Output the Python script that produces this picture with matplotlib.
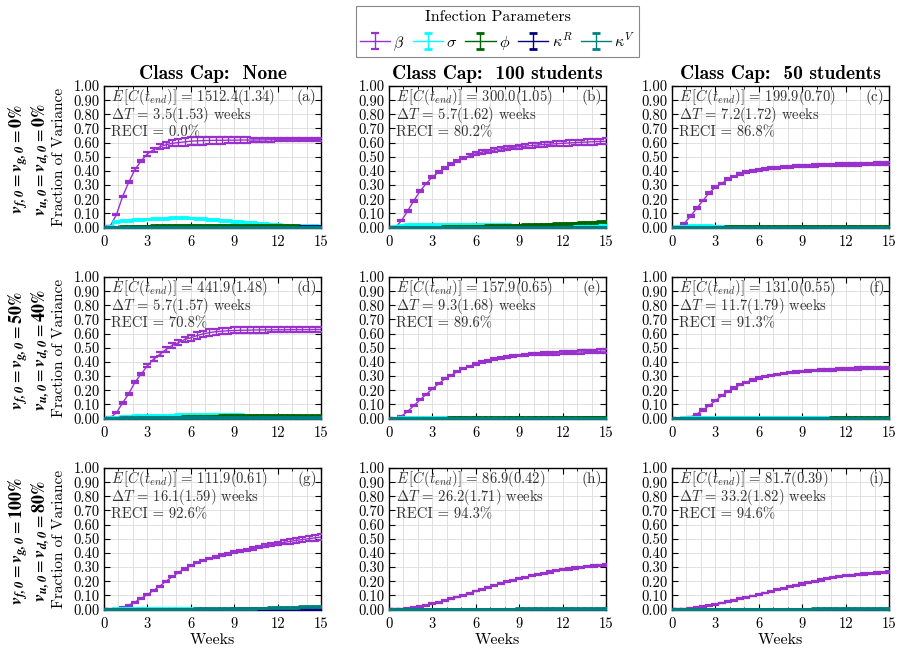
import numpy as np
import matplotlib.pyplot as plt
from matplotlib.lines import Line2D
from matplotlib.ticker import MultipleLocator, FormatStrFormatter

plt.rcParams['font.family'] = 'cmr10'
plt.rcParams['mathtext.fontset'] = 'cm'
plt.rcParams['axes.unicode_minus'] = False

# time axis (weeks), one point every 3 days
WEEKS = [0.0, 0.43, 0.86, 1.29, 1.71, 2.14, 2.57, 3.0, 3.43, 3.86, 4.29, 4.71,
         5.14, 5.57, 6.0, 6.43, 6.86, 7.29, 7.71, 8.14, 8.57, 9.0, 9.43, 9.86,
         10.29, 10.71, 11.14, 11.57, 12.0, 12.43, 12.86, 13.29, 13.71, 14.14, 14.57, 15.0]

CAPS = ['None', '100 students', '50 students']
ROW_VFG = ['0', '50', '100']
ROW_VUD = ['0', '40', '80']
LETTERS = ['a', 'b', 'c', 'd', 'e', 'f', 'g', 'h', 'i']
E_CEND = ['1512.4(1.34)', '300.0(1.05)', '199.9(0.70)',
          '441.9(1.48)', '157.9(0.65)', '131.0(0.55)',
          '111.9(0.61)', '86.9(0.42)', '81.7(0.39)']
DELTA_T = ['3.5(1.53)', '5.7(1.62)', '7.2(1.72)',
           '5.7(1.57)', '9.3(1.68)', '11.7(1.79)',
           '16.1(1.59)', '26.2(1.71)', '33.2(1.82)']
RECI = ['0.0', '80.2', '86.8', '70.8', '89.6', '91.3', '92.6', '94.3', '94.6']

SMALL_ERR = 0.003

# ---- panel (a)
beta_a = [0, .01, .09, .22, .32, .41, .47, .52, .55, .57, .585, .595,
          .600, .605, .610, .612, .614, .615, .616, .616, .617, .617, .618, .618,
          .618, .619, .619, .620, .620, .620, .620, .620, .621, .621, .621, .621]
beta_err_a = [0, .003, .004, .005, .006, .008, .010, .012, .015, .018, .020, .022,
              .024, .026, .027, .028, .028, .027, .026, .024, .022, .020, .019, .018,
              .016, .015, .014, .013, .012, .012, .011, .011, .010, .010, .010, .010]
sigma_a = [0, .005, .040, .050, .052, .056, .058, .060, .062, .064, .066, .068,
           .068, .068, .067, .065, .062, .058, .055, .052, .048, .044, .040, .036,
           .032, .029, .026, .022, .019, .017, .015, .014, .013, .012, .011, .010]
phi_a = [0, 0, .002, .004, .006, .008, .009, .010, .012, .013, .014, .015,
         .015, .016, .016, .016, .016, .016, .016, .016, .016, .016, .015, .015,
         .015, .015, .015, .014, .014, .013, .012, .011, .010, .009, .008, .008]
kr_a = [0, 0, 0, 0, 0, 0, 0, 0, 0, 0, 0, 0,
        0, 0, 0, 0, 0, 0, .001, .001, .001, .001, .001, .001,
        .001, .002, .002, .002, .003, .003, .003, .003, .004, .004, .004, .004]
kv_a = [0, .001, .002, .002, .002, .002, .002, .002, .002, .002, .002, .002,
        .002, .002, .002, .002, .002, .002, .002, .002, .002, .002, .002, .002,
        .002, .002, .002, .002, .002, .002, .002, .002, .002, .002, .002, .002]

# ---- panel (b)
beta_b = [0, 0, .047, .117, .188, .256, .310, .357, .390, .420, .446, .470,
          .490, .507, .520, .533, .540, .548, .555, .560, .566, .571, .575, .579,
          .583, .586, .589, .592, .595, .597, .600, .602, .604, .606, .608, .610]
beta_err_b = [0, .002, .004, .005, .005, .006, .006, .007, .007, .008, .008, .009,
              .009, .010, .010, .011, .011, .012, .012, .013, .013, .014, .014, .015,
              .015, .016, .016, .017, .017, .018, .018, .019, .019, .020, .020, .020]
sigma_b = [0, .005, .015, .020, .022, .022, .022, .022, .022, .022, .022, .021,
           .021, .020, .020, .020, .019, .019, .018, .018, .017, .017, .016, .016,
           .015, .015, .014, .014, .013, .013, .012, .012, .012, .011, .011, .011]
phi_b = [0, 0, 0, 0, .001, .001, .002, .002, .003, .004, .005, .006,
         .007, .008, .009, .010, .011, .012, .013, .014, .015, .017, .018, .019,
         .021, .022, .024, .025, .027, .029, .031, .033, .035, .037, .039, .042]
kr_b = [0, 0, 0, 0, 0, 0, 0, 0, 0, 0, 0, 0,
        0, 0, 0, 0, 0, 0, 0, 0, 0, 0, 0, 0,
        .001, .001, .001, .001, .001, .001, .001, .001, .001, .001, .001, .001]
kv_b = [0, .001, .002, .002, .002, .002, .002, .002, .002, .002, .002, .002,
        .002, .002, .002, .002, .002, .002, .002, .002, .002, .002, .002, .002,
        .002, .002, .002, .002, .002, .002, .002, .002, .002, .002, .002, .002]

# ---- panel (c)
beta_c = [0, 0, .030, .080, .136, .190, .244, .284, .310, .340, .360, .378,
          .390, .400, .407, .413, .418, .422, .425, .428, .431, .433, .435, .437,
          .439, .441, .443, .444, .445, .446, .447, .448, .449, .450, .451, .452]
beta_err_c = [0, .002, .004, .005, .005, .006, .006, .006, .006, .006, .006, .006,
              .006, .006, .006, .006, .006, .006, .007, .007, .007, .007, .007, .008,
              .008, .008, .008, .009, .009, .009, .010, .010, .010, .011, .011, .011]
sigma_c = [0, .005, .010, .012, .012, .012, .011, .010, .009, .008, .007, .006,
           .005, .004, .003, .003, .002, .002, .002, .001, .001, .001, .001, .001,
           .001, .001, .001, .001, .001, .001, .001, .001, .001, .001, .001, .001]
phi_c = [0, 0, 0, .001, .001, .002, .002, .003, .003, .004, .004, .004,
         .004, .004, .004, .004, .004, .004, .004, .004, .004, .004, .004, .004,
         .004, .004, .004, .004, .004, .004, .004, .004, .004, .004, .004, .004]
kr_c = [0, 0, 0, 0, 0, 0, 0, 0, 0, 0, 0, 0,
        0, 0, 0, 0, 0, 0, 0, 0, 0, 0, 0, 0,
        .001, .001, .001, .001, .001, .001, .001, .001, .001, .001, .001, .001]
kv_c = [0, .001, .002, .002, .002, .002, .002, .002, .002, .002, .002, .002,
        .002, .002, .002, .002, .002, .002, .002, .002, .002, .002, .002, .002,
        .002, .002, .002, .002, .002, .002, .002, .002, .002, .002, .002, .002]

# ---- panel (d)
beta_d = [0, .005, .040, .110, .175, .256, .314, .372, .420, .453, .488, .516,
          .535, .558, .570, .586, .598, .607, .613, .617, .620, .622, .623, .624,
          .625, .626, .626, .627, .627, .627, .628, .628, .628, .628, .629, .629]
beta_err_d = [0, .002, .004, .005, .006, .007, .008, .010, .012, .014, .016, .018,
              .019, .020, .021, .022, .022, .022, .022, .022, .021, .021, .020, .020,
              .020, .019, .019, .019, .018, .018, .018, .018, .018, .018, .018, .018]
sigma_d = [0, .005, .010, .012, .015, .020, .020, .020, .020, .020, .020, .021,
           .025, .025, .025, .025, .025, .025, .025, .025, .025, .025, .025, .015,
           .012, .010, .008, .007, .006, .005, .004, .004, .003, .003, .003, .003]
phi_d = [0, 0, 0, .001, .002, .003, .004, .005, .006, .007, .008, .009,
         .010, .011, .012, .014, .015, .016, .017, .018, .019, .020, .020, .021,
         .021, .021, .021, .021, .021, .020, .020, .020, .019, .019, .018, .018]
kr_d = [0, 0, 0, 0, 0, 0, 0, 0, 0, 0, 0, 0,
        0, 0, 0, 0, 0, 0, 0, 0, 0, 0, 0, 0,
        0, 0, .001, .002, .002, .002, .002, .002, .002, .002, .002, .002]
kv_d = [0, .002, .003, .004, .004, .004, .004, .004, .004, .004, .004, .004,
        .004, .004, .004, .004, .004, .004, .004, .004, .004, .004, .004, .004,
        .004, .004, .004, .004, .004, .004, .004, .004, .004, .004, .004, .004]

# ---- panel (e)
beta_e = [0, 0, .015, .050, .090, .131, .170, .210, .245, .280, .305, .330,
          .352, .369, .384, .397, .408, .419, .427, .434, .440, .445, .449, .453,
          .456, .458, .460, .462, .464, .466, .468, .470, .472, .473, .475, .476]
beta_err_e = [0, .002, .003, .004, .004, .004, .004, .004, .004, .004, .005, .005,
              .005, .005, .005, .006, .006, .006, .006, .007, .007, .007, .008, .008,
              .008, .009, .009, .010, .010, .011, .011, .012, .012, .013, .013, .014]
sigma_e = [0, .003, .005, .005, .005, .005, .005, .005, .005, .005, .005, .005,
           .005, .003, .001, 0, 0, 0, 0, 0, 0, 0, 0, 0,
           0, 0, 0, 0, 0, 0, 0, 0, 0, 0, 0, 0]
phi_e = [0, 0, 0, .001, .001, .002, .002, .003, .003, .003, .004, .004,
         .004, .004, .005, .005, .005, .005, .006, .006, .006, .006, .006, .007,
         .007, .007, .008, .008, .009, .009, .009, .009, .010, .010, .010, .010]
kr_e = [0, 0, 0, 0, 0, 0, 0, 0, 0, 0, 0, 0,
        0, 0, 0, 0, 0, 0, 0, 0, 0, 0, 0, 0,
        .001, .001, .001, .001, .001, .001, .001, .001, .001, .001, .001, .001]
kv_e = [0, .002, .003, .003, .003, .003, .003, .003, .003, .003, .003, .003,
        .003, .003, .003, .003, .003, .003, .003, .003, .003, .003, .003, .003,
        .003, .003, .003, .003, .003, .003, .003, .003, .003, .003, .003, .003]

# ---- panel (f)
beta_f = [0, 0, .003, .010, .030, .060, .090, .125, .160, .190, .215, .238,
          .257, .272, .285, .296, .305, .312, .318, .323, .328, .332, .335, .338,
          .341, .343, .345, .347, .349, .351, .353, .354, .355, .356, .357, .358]
beta_err_f = [0, .001, .002, .003, .004, .004, .004, .004, .004, .004, .004, .004,
              .004, .004, .005, .005, .005, .005, .005, .005, .006, .006, .006, .006,
              .006, .006, .007, .007, .007, .007, .008, .008, .008, .008, .008, .008]
sigma_f = [0, 0, .005, .008, .010, .010, .010, .010, .010, .010, .010, .010,
           .010, .010, .010, .010, .010, .010, .010, .010, .010, .010, .010, .010,
           .006, .004, .003, .002, .002, .002, .001, .001, .001, .001, .001, .001]
phi_f = [0, 0, 0, .001, .001, .001, .002, .002, .002, .002, .002, .002,
         .003, .003, .003, .003, .003, .003, .003, .003, .003, .003, .003, .003,
         .003, .003, .004, .004, .004, .004, .004, .004, .004, .004, .004, .004]
kr_f = [0, 0, 0, 0, 0, 0, 0, 0, 0, 0, 0, 0,
        0, 0, 0, 0, 0, 0, 0, 0, 0, 0, 0, 0,
        .001, .001, .001, .001, .001, .001, .001, .001, .001, .001, .001, .001]
kv_f = [0, .001, .002, .002, .002, .002, .002, .002, .002, .002, .002, .002,
        .002, .002, .002, .002, .002, .002, .002, .002, .002, .002, .002, .002,
        .002, .002, .002, .002, .002, .002, .002, .002, .002, .002, .002, .002]

# ---- panel (g)
beta_g = [0, 0, .004, .014, .030, .052, .078, .105, .135, .165, .200, .230,
          .260, .287, .310, .330, .345, .360, .372, .383, .393, .403, .413, .422,
          .432, .441, .450, .458, .466, .474, .481, .488, .494, .500, .506, .512]
beta_err_g = [0, 0, .002, .003, .004, .004, .004, .004, .004, .004, .004, .004,
              .004, .005, .005, .005, .005, .006, .006, .006, .007, .007, .008, .008,
              .009, .010, .011, .012, .013, .014, .015, .016, .017, .018, .019, .020]
sigma_g = [0, .002, .004, .004, .004, .004, .004, .004, .004, .004, .004, .004,
           .004, .004, .004, .004, .002, .002, .001, .001, .001, .001, .001, .001,
           0, 0, 0, 0, 0, 0, 0, 0, 0, 0, 0, 0]
phi_g = [0, 0, .001, .001, .001, .001, .001, .001, .001, .001, .001, .001,
         .001, .001, .001, .002, .002, .002, .003, .003, .003, .004, .004, .004,
         .005, .005, .006, .006, .007, .007, .008, .008, .009, .009, .010, .010]
kr_g = [0, 0, 0, 0, 0, 0, 0, 0, 0, 0, 0, 0,
        0, 0, 0, 0, .001, .002, .002, .002, .002, .002, .002, .002,
        .003, .003, .003, .003, .003, .003, .003, .003, .003, .003, .003, .003]
kv_g = [0, .003, .003, .003, .003, .003, .003, .003, .003, .003, .003, .003,
        .003, .003, .003, .004, .006, .006, .006, .006, .007, .007, .007, .008,
        .008, .010, .010, .011, .012, .012, .013, .015, .018, .020, .020, .020]

# ---- panel (h)
beta_h = [0, 0, .001, .005, .012, .020, .030, .040, .050, .062, .075, .088,
          .100, .115, .130, .143, .157, .170, .183, .195, .207, .218, .228, .238,
          .248, .257, .265, .273, .280, .286, .292, .298, .303, .307, .311, .314]
beta_err_h = [0, 0, .001, .002, .003, .003, .003, .003, .003, .003, .003, .003,
              .003, .003, .003, .003, .003, .003, .004, .004, .004, .004, .004, .004,
              .004, .004, .004, .004, .004, .004, .005, .005, .005, .005, .005, .005]
sigma_h = [0, .002, .003, .003, .003, .003, .003, .003, .003, .003, .003, .003,
           .001, .001, .001, 0, 0, 0, 0, 0, 0, 0, 0, 0,
           0, 0, 0, 0, 0, 0, 0, 0, 0, 0, 0, 0]
phi_h = [0, 0, .001, .001, .001, .001, .001, .001, .001, .001, .001, .001,
         .001, .001, .001, .001, .001, .001, .001, .001, .001, .001, .001, .001,
         .001, .001, .001, .001, .001, .001, .001, .001, .001, .001, .001, .001]
kr_h = [0, 0, 0, 0, 0, 0, 0, 0, 0, 0, 0, 0,
        0, 0, 0, 0, 0, 0, 0, 0, 0, .002, .002, .002,
        .002, .002, .002, .002, .002, .002, .002, .002, .002, .002, .002, .002]
kv_h = [0, .002, .003, .003, .003, .003, .003, .003, .003, .003, .003, .003,
        .003, .003, .003, .003, .003, .003, .003, .003, .003, .004, .004, .004,
        .004, .004, .004, .004, .004, .004, .004, .004, .004, .004, .004, .004]

# ---- panel (i)
beta_i = [0, 0, .002, .006, .012, .020, .028, .036, .045, .055, .065, .075,
          .085, .095, .105, .116, .127, .138, .149, .160, .170, .180, .190, .199,
          .208, .216, .224, .231, .237, .243, .248, .252, .256, .259, .262, .264]
beta_err_i = [0, 0, .001, .002, .003, .003, .003, .003, .003, .003, .003, .003,
              .003, .003, .003, .003, .003, .003, .004, .004, .004, .004, .004, .004,
              .004, .004, .004, .004, .004, .004, .005, .005, .005, .005, .005, .005]
sigma_i = [0, .002, .003, .003, .003, .003, .003, .003, .003, .003, .003, .003,
           .001, .001, .001, 0, 0, 0, 0, 0, 0, 0, 0, 0,
           0, 0, 0, 0, 0, 0, 0, 0, 0, 0, 0, 0]
phi_i = [0, 0, .001, .001, .001, .001, .001, .001, .001, .001, .001, .001,
         .001, .001, .001, .001, .001, .001, .001, .001, .001, .001, .001, .001,
         .001, .001, .001, .001, .001, .001, .001, .001, .001, .001, .001, .001]
kr_i = [0, 0, 0, 0, 0, 0, 0, 0, 0, 0, 0, 0,
        0, 0, 0, 0, 0, 0, 0, 0, 0, 0, 0, .002,
        .002, .002, .002, .002, .002, .002, .002, .002, .002, .002, .002, .002]
kv_i = [0, .002, .003, .003, .003, .003, .003, .003, .003, .003, .003, .003,
        .003, .003, .003, .003, .003, .003, .003, .003, .003, .003, .003, .004,
        .004, .004, .004, .004, .004, .004, .004, .004, .004, .004, .004, .004]

panels = [
    (beta_a, beta_err_a, sigma_a, phi_a, kr_a, kv_a),
    (beta_b, beta_err_b, sigma_b, phi_b, kr_b, kv_b),
    (beta_c, beta_err_c, sigma_c, phi_c, kr_c, kv_c),
    (beta_d, beta_err_d, sigma_d, phi_d, kr_d, kv_d),
    (beta_e, beta_err_e, sigma_e, phi_e, kr_e, kv_e),
    (beta_f, beta_err_f, sigma_f, phi_f, kr_f, kv_f),
    (beta_g, beta_err_g, sigma_g, phi_g, kr_g, kv_g),
    (beta_h, beta_err_h, sigma_h, phi_h, kr_h, kv_h),
    (beta_i, beta_err_i, sigma_i, phi_i, kr_i, kv_i),
]

COLORS = ['#9932cc', '#00ffff', '#006400', '#000080', '#008080']
NAMES = [r'$\beta$', r'$\sigma$', r'$\phi$', r'$\kappa^R$', r'$\kappa^V$']

W, H = 901, 653
fig = plt.figure(figsize=(W / 100, H / 100), dpi=100)

col_left = [104, 389, 672]
row_top = [86, 277, 468]
ax_w, ax_h = 217, 142

handles = []
for k, series in enumerate(panels):
    r, c = divmod(k, 3)
    ax = fig.add_axes([col_left[c] / W, 1 - (row_top[r] + ax_h) / H, ax_w / W, ax_h / H])
    beta, beta_err, sigma, phi, kr, kv = series
    t = np.array(WEEKS)
    ys = [beta, sigma, phi, kr, kv]
    errs = [beta_err] + [SMALL_ERR] * 4
    for j in range(5):
        h = ax.errorbar(t, ys[j], yerr=errs[j], color=COLORS[j], lw=1.0,
                        elinewidth=1.0, capsize=3, capthick=1.6 if j == 0 else 2.0,
                        zorder=3 + j)
        if k == 0:
            handles.append(h)

    ax.set_xlim(0, 15)
    ax.set_ylim(-0.004, 1.0)
    ax.xaxis.set_major_locator(MultipleLocator(3))
    ax.xaxis.set_minor_locator(MultipleLocator(1))
    ax.yaxis.set_major_locator(MultipleLocator(0.1))
    ax.yaxis.set_major_formatter(FormatStrFormatter('%.2f'))
    ax.grid(which='both', color='#dcdcdc', lw=0.6, zorder=0)
    ax.set_axisbelow(True)
    ax.tick_params(which='both', direction='in', top=True, right=True, labelsize=10.5)
    ax.tick_params(axis='x', pad=5)
    ax.tick_params(axis='y', pad=3)
    ax.tick_params(which='major', length=4)
    ax.tick_params(which='minor', length=2)
    for s in ax.spines.values():
        s.set_linewidth(1.0)

    # stats block in the upper left corner
    ax.text(0.032, 0.925, r'$E\,\left[C(t_{end})\right]\,=\,%s$' % E_CEND[k],
            transform=ax.transAxes, fontsize=10.5, va='center', ha='left', color='#333333')
    ax.text(0.032, 0.795, r'$\Delta T$ = %s weeks' % DELTA_T[k],
            transform=ax.transAxes, fontsize=10.5, va='center', ha='left', color='#333333')
    ax.text(0.032, 0.675, 'RECI = %s%%' % RECI[k],
            transform=ax.transAxes, fontsize=10.5, va='center', ha='left', color='#333333')
    ax.text(0.98, 0.92, '(%s)' % LETTERS[k], transform=ax.transAxes,
            fontsize=11, va='center', ha='right', color='#333333')

    if r == 0:
        ax.set_title('Class Cap:  %s' % CAPS[c], fontfamily='cmb10', fontsize=14, pad=5)
    if r == 2:
        ax.set_xlabel('Weeks', fontsize=11.5, labelpad=2)
    if c == 0:
        yc = 1 - (row_top[r] + ax_h / 2) / H
        fig.text(59 / W, yc, 'Fraction of Variance', rotation=90, ha='center',
                 va='center', fontsize=11)
        fig.text(40 / W, yc - 0.004,
                 r'$\mathbfit{v_{u,0}} = \mathbfit{v_{d,0}} = \mathbf{%s\%%}$' % ROW_VUD[r],
                 rotation=90, ha='center', va='center', fontsize=13, math_fontfamily='stix')
        fig.text(18 / W, yc - 0.004,
                 r'$\mathbfit{v_{f,0}} = \mathbfit{v_{g,0}} = \mathbf{%s\%%}$' % ROW_VFG[r],
                 rotation=90, ha='center', va='center', fontsize=13, math_fontfamily='stix')

# legend centred over the middle column
leg_x = (col_left[1] + ax_w / 2) / W
leg = fig.legend(handles, NAMES, loc='upper center', bbox_to_anchor=(leg_x, 0.991),
                 ncol=5, title='Infection Parameters', fontsize=11.5, title_fontsize=11.5,
                 fancybox=False, edgecolor='#888888', framealpha=1,
                 handlelength=1.9, handletextpad=0.2, columnspacing=0.5,
                 borderpad=0.25, borderaxespad=0.0)
leg.get_frame().set_linewidth(0.8)

# separator line under the legend title
fig.canvas.draw()
rend = fig.canvas.get_renderer()
lb = leg.get_window_extent(rend)
tb = leg.get_title().get_window_extent(rend)
ysep = (tb.y0 - 2) / fig.bbox.height
fig.add_artist(Line2D([lb.x0 / fig.bbox.width, lb.x1 / fig.bbox.width], [ysep, ysep],
                      transform=fig.transFigure, color='#888888', lw=0.8))

fig.savefig('out.png', dpi=100)
